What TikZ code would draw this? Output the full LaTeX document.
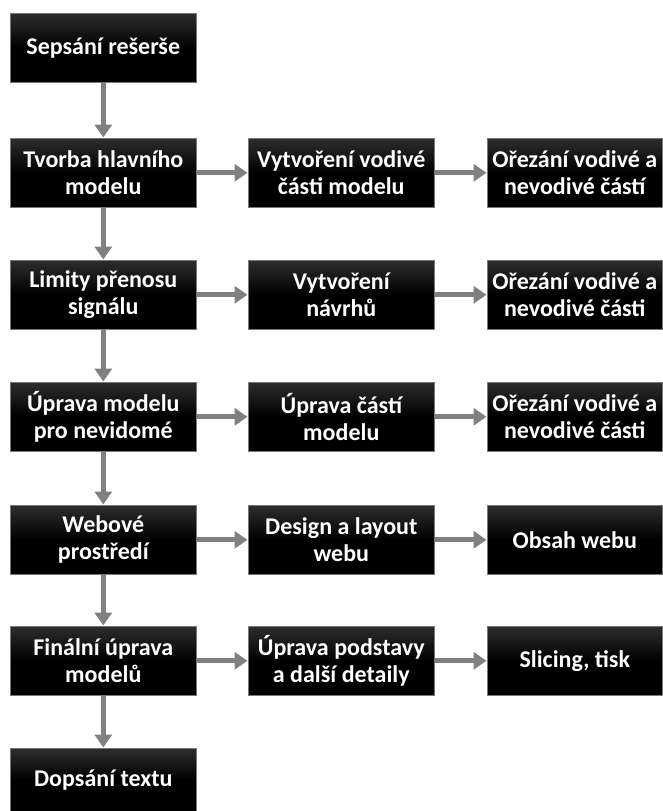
\documentclass[tikz,border=0pt]{standalone}
\usepackage{fontspec}
\setmainfont{Carlito}
\usetikzlibrary{arrows.meta}
\begin{document}
\begin{tikzpicture}[x=1pt,y=-1pt,
  box/.style={draw={rgb,255:red,120;green,120;blue,120}, line width=0.6pt,
    top color={rgb,255:red,45;green,45;blue,45}, bottom color=black, middle color=black,
    text=white, font=\fontsize{24}{27}\selectfont\bfseries, align=center,
    minimum width=186pt, minimum height=69pt, inner sep=0pt, anchor=north west},
  boxr/.style={box, minimum width=175pt},
  arr/.style={draw={rgb,255:red,128;green,128;blue,128}, line width=5pt,
    -{Triangle[length=13pt,width=17pt]}, shorten >=0.5pt}]
\useasboundingbox (0,0) rectangle (662,811);
\fill[white] (0,0) rectangle (662,811);
% column 1
\node[box] (a1) at (10,13) {Sepsání rešerše};
\node[box] (a2) at (10,138) {Tvorba hlavního\\modelu};
\node[box] (a3) at (10,260) {Limity přenosu\\signálu};
\node[box] (a4) at (10,382) {Úprava modelu\\pro nevidomé};
\node[box] (a5) at (10,505) {Webové\\prostředí};
\node[box] (a6) at (10,626) {Finální úprava\\modelů};
\node[box, minimum height=63pt] (a7) at (10,748) {Dopsání textu};
% column 2
\node[box] (b2) at (248,138) {Vytvoření vodivé\\části modelu};
\node[box] (b3) at (248,260) {Vytvoření\\návrhů};
\node[box] (b4) at (248,382) {Úprava částí\\modelu};
\node[box] (b5) at (248,505) {Design a layout\\webu};
\node[box] (b6) at (248,626) {Úprava podstavy\\a další detaily};
% column 3
\node[boxr] (c2) at (487,138) {Ořezání vodivé a\\nevodivé částí};
\node[boxr] (c3) at (487,260) {Ořezání vodivé a\\nevodivé části};
\node[boxr] (c4) at (487,382) {Ořezání vodivé a\\nevodivé části};
\node[boxr] (c5) at (487,505) {Obsah webu};
\node[boxr] (c6) at (487,626) {Slicing, tisk};
% vertical arrows
\foreach \u/\v in {a1/a2,a2/a3,a3/a4,a4/a5,a5/a6,a6/a7}
  \draw[arr] (\u.south) -- (\v.north);
% horizontal arrows
\foreach \r in {2,...,6}{
  \draw[arr] (a\r.east) -- (b\r.west);
  \draw[arr] (b\r.east) -- (c\r.west);
}
\end{tikzpicture}
\end{document}
